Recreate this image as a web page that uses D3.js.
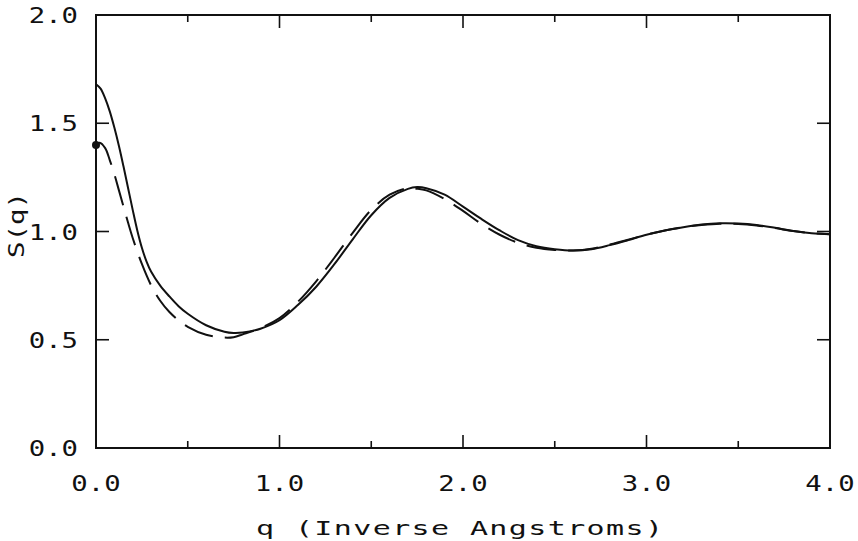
<!DOCTYPE html>
<html>
<head>
<meta charset="utf-8">
<script src="https://cdn.jsdelivr.net/npm/d3@7"></script>
<style>
  html, body { margin: 0; padding: 0; background: #fff; }
  svg { display: block; }
  text { font-family: "DejaVu Sans Mono", monospace; fill: #111; font-variant-numeric: slashed-zero; }
</style>
</head>
<body>
<svg id="chart" width="858" height="541"></svg>
<script>
// ---- data ----
const xTickValues = [0, 1, 2, 3, 4];
const xTickLabels = ["0.0", "1.0", "2.0", "3.0", "4.0"];
const yTickValues = [0, 0.5, 1, 1.5, 2];
const yTickLabels = ["0.0", "0.5", "1.0", "1.5", "2.0"];
const xLabel = "q (Inverse Angstroms)";
const yLabel = "S(q)";

const qSolid = [0, 0.025, 0.05, 0.075, 0.1, 0.125, 0.15, 0.175, 0.2, 0.225, 0.25, 0.275, 0.3, 0.35, 0.4, 0.45, 0.5,
  0.6, 0.7, 0.75, 0.8, 0.9, 1.0,
  1.1, 1.2, 1.3, 1.4, 1.5, 1.6, 1.7, 1.75, 1.8, 1.9, 2.0, 2.1, 2.2, 2.3, 2.4, 2.5, 2.6, 2.7, 2.8,
  2.9, 3.0, 3.1, 3.2, 3.3, 3.4, 3.5, 3.6, 3.7, 3.8, 3.9, 4.0];
const sSolid = [1.68, 1.66, 1.615, 1.555, 1.48, 1.395, 1.30, 1.20, 1.10, 1.005, 0.925, 0.862, 0.815, 0.75, 0.70, 0.655, 0.62,
  0.567, 0.537, 0.531, 0.533, 0.552, 0.59,
  0.66, 0.745, 0.85, 0.965, 1.075, 1.155, 1.197, 1.205, 1.20, 1.17, 1.115, 1.058, 1.005, 0.96, 0.932, 0.918, 0.912, 0.918, 0.937,
  0.96, 0.985, 1.005, 1.02, 1.032, 1.038, 1.037, 1.03, 1.017, 1.002, 0.992, 0.987];

const qDashed = [0, 0.02, 0.05, 0.075, 0.1, 0.125, 0.15, 0.175, 0.2, 0.25, 0.3, 0.35, 0.4, 0.45, 0.5,
  0.6, 0.7, 0.75, 0.8, 0.9, 1.0,
  1.1, 1.2, 1.3, 1.4, 1.5, 1.6, 1.7, 1.75, 1.8, 1.9, 2.0, 2.1, 2.2, 2.3, 2.4, 2.5, 2.6, 2.7, 2.8,
  2.9, 3.0, 3.1, 3.2, 3.3, 3.4, 3.5, 3.6, 3.7, 3.8, 3.9, 4.0];
const sDashed = [1.40, 1.41, 1.385, 1.33, 1.265, 1.19, 1.115, 1.04, 0.97, 0.85, 0.752, 0.68, 0.628, 0.59, 0.56,
  0.523, 0.51, 0.512, 0.525, 0.555, 0.60,
  0.675, 0.77, 0.88, 0.995, 1.10, 1.17, 1.20, 1.198, 1.19, 1.15, 1.095, 1.035, 0.985, 0.948, 0.925, 0.915, 0.912, 0.92, 0.94,
  0.962, 0.985, 1.005, 1.02, 1.03, 1.036, 1.035, 1.028, 1.016, 1.002, 0.992, 0.987];

const pointQ = [0];
const pointS = [1.40];

// ---- layout ----
const svg = d3.select("#chart");
const mLeft = 96, mRight = 830, mTop = 15, mBottom = 448;
const x = d3.scaleLinear().domain([0, 4]).range([mLeft, mRight]);
const y = d3.scaleLinear().domain([0, 2]).range([mBottom, mTop]);

const ink = "#111";
const sx = 1.3; // horizontal stretch to mimic the wide plotter font

// frame
svg.append("rect")
  .attr("x", mLeft).attr("y", mTop)
  .attr("width", mRight - mLeft).attr("height", mBottom - mTop)
  .attr("fill", "none").attr("stroke", ink).attr("stroke-width", 2);

// ticks (inward)
const xTicksAll = d3.range(0.5, 4, 0.5);
const g = svg.append("g");
xTicksAll.forEach(v => {
  const len = Number.isInteger(v) ? 13 : 7;
  g.append("line").attr("x1", x(v)).attr("x2", x(v)).attr("y1", mBottom).attr("y2", mBottom - len)
    .attr("stroke", ink).attr("stroke-width", 1.6);
  g.append("line").attr("x1", x(v)).attr("x2", x(v)).attr("y1", mTop).attr("y2", mTop + len)
    .attr("stroke", ink).attr("stroke-width", 1.6);
});
const yTicksInner = [0.5, 1, 1.5];
yTicksInner.forEach(v => {
  g.append("line").attr("x1", mLeft).attr("x2", mLeft + 13).attr("y1", y(v)).attr("y2", y(v))
    .attr("stroke", ink).attr("stroke-width", 1.6);
  g.append("line").attr("x1", mRight).attr("x2", mRight - 13).attr("y1", y(v)).attr("y2", y(v))
    .attr("stroke", ink).attr("stroke-width", 1.6);
});

// tick labels
svg.append("g").selectAll("text").data(xTickValues).join("text")
  .attr("transform", d => `translate(${x(d)},491) scale(${sx},1)`)
  .attr("text-anchor", "middle")
  .attr("font-size", 21)
  .text((d, i) => xTickLabels[i]);

svg.append("g").selectAll("text").data(yTickValues).join("text")
  .attr("transform", d => `translate(78,${y(d) + 8}) scale(${sx},1)`)
  .attr("text-anchor", "end")
  .attr("font-size", 21)
  .text((d, i) => yTickLabels[i]);

// axis titles
svg.append("text")
  .attr("transform", `translate(256,535) scale(1.5,1)`)
  .attr("font-size", 20)
  .attr("textLength", 407 / 1.5).attr("lengthAdjust", "spacing")
  .text(xLabel);

svg.append("text")
  .attr("transform", `translate(24,258) rotate(-90) scale(${sx},1)`)
  .attr("font-size", 21)
  .attr("textLength", 66 / sx).attr("lengthAdjust", "spacing")
  .text(yLabel);

// curves
const line = d3.line()
  .x(d => x(d[0])).y(d => y(d[1]))
  .curve(d3.curveCatmullRom.alpha(0.5));

const plot = svg.append("g");
plot.append("path")
  .datum(d3.zip(qSolid, sSolid))
  .attr("d", line)
  .attr("fill", "none").attr("stroke", ink).attr("stroke-width", 2);

plot.append("path")
  .datum(d3.zip(qDashed, sDashed))
  .attr("d", line)
  .attr("fill", "none").attr("stroke", ink).attr("stroke-width", 2)
  .attr("stroke-dasharray", "30,12");

plot.selectAll("circle").data(d3.zip(pointQ, pointS)).join("circle")
  .attr("cx", d => x(d[0])).attr("cy", d => y(d[1]))
  .attr("r", 4).attr("fill", ink);
</script>
</body>
</html>
